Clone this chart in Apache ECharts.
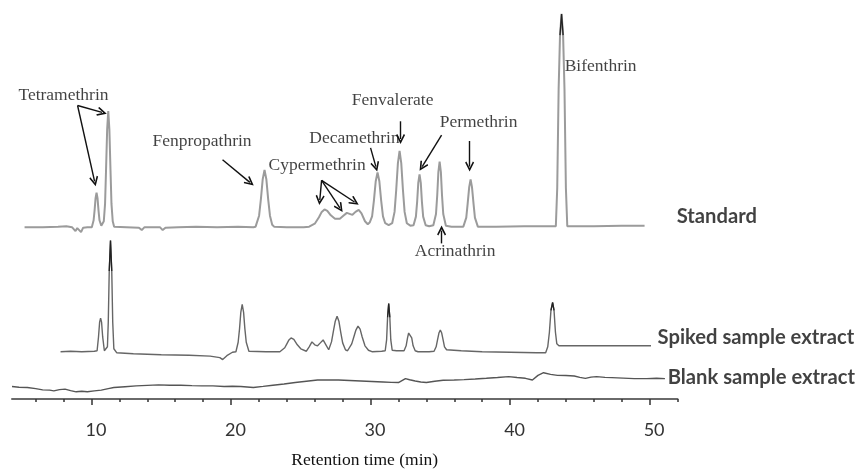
<!DOCTYPE html>
<html>
<head>
<meta charset="utf-8">
<script src="https://cdn.jsdelivr.net/npm/echarts@6/dist/echarts.min.js"></script>
<style>html,body{margin:0;padding:0;background:#fff;}#c{width:859px;height:474px;}</style>
</head>
<body>
<div id="c"></div>
<script>
// ---- Data (retention time in min, detector signal in arbitrary units above each trace's baseline) ----
const standardTrace = [
[5.2,0],[6.5,0],[7.6,0.5],[8.2,1],[8.6,0],[8.85,-4],[8.98,-1],[9.1,-1.5],[9.25,-5],[9.4,-0.5],[9.7,0],
[10.02,0],[10.15,7],[10.22,17],[10.29,29.4],[10.36,35],[10.43,29.4],[10.5,17],[10.57,7],[10.7,1.5],[10.79,1],
[10.88,6],[10.97,23.6],[11.04,57.8],[11.12,99],[11.2,118],[11.28,99],[11.36,57.8],[11.43,23.6],[11.52,6],[11.62,0.5],
[12.5,0],[13.4,-0.5],[13.6,-3],[13.8,0],[14.9,0],[15.1,-3],[15.3,-0.5],[16.2,0],[17.5,0.5],[19,0],[20.5,0.3],[21.6,0],
[21.76,0.5],[22.01,11.6],[22.14,28.4],[22.27,48.7],[22.4,58],[22.53,48.7],[22.66,28.4],[22.79,11.6],[22.95,2.5],[23.1,0.3],
[24,0],[25.2,0],[25.6,0.5],[26.0,3.5],[26.3,10],[26.5,15.5],[26.7,18],[26.9,16.5],[27.15,12],[27.45,8.5],[27.8,8.5],
[28.05,11.5],[28.3,14.5],[28.5,13.5],[28.7,12.5],[28.92,15.5],[29.15,17.5],[29.35,14],[29.6,6],[29.8,3],
[29.95,5],[30.11,11],[30.24,27],[30.37,46.6],[30.5,55.5],[30.63,46.6],[30.76,27],[30.89,11],[31.05,4],[31.3,2],
[31.55,4],[31.72,15.5],[31.84,38],[31.96,65],[32.08,77.5],[32.2,65],[32.32,38],[32.44,15.5],[32.6,4],[32.85,1.5],
[33.08,2],[33.25,10.7],[33.34,26],[33.42,45],[33.51,53.5],[33.6,45],[33.68,26],[33.77,10.7],[33.95,2],[34.2,1],
[34.5,2],[34.69,13.3],[34.78,32.6],[34.86,56],[34.95,66.5],[35.04,56],[35.12,32.6],[35.21,13.3],[35.4,1.5],[35.8,0.5],
[36.65,0.5],[36.86,9.7],[36.96,23.8],[37.07,40.7],[37.17,48.5],[37.27,40.7],[37.38,23.8],[37.48,9.7],[37.69,0.5],
[39,0.5],[41,1],[43.1,1],[43.28,1],[43.38,40],[43.48,140],[43.58,195],[43.69,216.5],[43.8,195],[43.9,140],[44.0,40],[44.1,1],
[46,1],[48,1.5],[49.64,1.5]
];
const spikedTrace = [
[7.78,0],[8.5,0.5],[9.3,0],[10.2,0.5],[10.4,1],[10.5,15],[10.58,30],[10.65,34],[10.72,30],[10.8,15],[10.92,1],[11.05,1],
[11.14,5],[11.2,30],[11.27,82],[11.36,113],[11.45,82],[11.52,30],[11.6,3],[11.8,-1],
[13,-2],[15,-3],[17,-3.5],[18.5,-4.5],[19.2,-6],[19.4,-8],[19.7,-4],[20.1,-0.5],
[20.35,0],[20.51,9.6],[20.61,23.5],[20.7,40],[20.8,48],[20.9,40],[20.99,23.5],[21.09,9.6],[21.28,0.5],
[22.5,0],[23.5,0],[23.85,4],[24.0,8],[24.15,12],[24.3,14],[24.5,12.5],[24.75,7],[25.0,3],[25.4,0.5],[25.6,5],[25.8,10],
[26.0,7],[26.2,6],[26.4,9],[26.6,12],[26.8,7],[27.0,2],
[27.2,10],[27.35,22],[27.47,31],[27.6,36],[27.73,31],[27.86,20],[28.0,9],[28.2,2],[28.35,1],
[28.65,8],[28.8,15],[28.95,22],[29.1,26],[29.25,23],[29.4,15],[29.6,6],[29.85,1.5],[30.1,0],
[30.8,0.5],[31.05,1],[31.15,12],[31.22,35],[31.3,49],[31.38,35],[31.45,12],[31.55,1.5],[31.86,1],
[32.4,1],[32.55,6],[32.65,14],[32.73,19],[32.8,21],[32.87,19],[32.95,14],[33.05,6],[33.2,1],[33.4,0],
[34.2,0],[34.55,0.5],[34.7,5],[34.8,12],[34.9,19],[35.0,22],[35.1,19],[35.2,12],[35.3,5],[35.45,2],
[36.5,1],[38,0],[40,-0.5],[41.9,-1],[42.55,-1],[42.7,5],[42.82,20],[42.93,42],[43.05,50],[43.15,42],[43.25,20],[43.35,8],[43.5,6],
[45,6],[47,6],[49,6],[50.1,6]
];
const blankTrace = [
[4.3,12.7],[4.8,12],[5.4,11.7],[6.0,10.5],[6.5,9.3],[7.0,9],[7.3,8.3],[7.7,9.5],[8.1,10],[8.5,8.5],[8.9,7.3],[9.3,7.8],[9.7,7.3],
[10.2,8.2],[10.7,9],[11.2,10.5],[11.6,11.7],[12.4,12.5],[13.2,13.3],[14.0,13.8],[14.8,14.3],[15.6,14],[16.4,14],[17.2,13.6],
[17.9,13.3],[18.7,13.3],[19.5,12.7],[20.1,13],[20.7,12.7],[21.6,11.7],[22.3,12.8],[23.0,14],[23.8,15.2],[24.6,16.7],
[25.4,18],[26.2,19.3],[27.0,19.3],[27.7,19.3],[28.5,18.8],[29.3,18.3],[30.1,17.8],[30.9,17.3],[31.5,16.9],[32.0,16.7],
[32.5,20.7],[32.8,19.5],[33.2,18.3],[33.6,17.3],[34.0,16.7],[34.6,18],[35.2,19],[36.0,19.3],[36.7,19.7],[37.5,20.3],
[38.3,21],[39.1,21.8],[39.9,22.7],[40.5,21.8],[41.1,21],[41.6,19.3],[42.0,24],[42.4,26.7],[42.9,25],[43.4,24],[44.0,23.8],
[44.6,23.3],[45.0,22],[45.4,21],[45.8,22.2],[46.2,22.7],[46.8,22],[47.3,21.7],[48.1,21.2],[48.9,20.7],[49.8,20.7],[50.5,21],[51.1,20.7]
];
const majorTicks = [10, 20, 30, 40, 50];
const minorTicks = [6,8,10,12,14,16,18,20,22,24,26,28,30,32,34,36,38,40,42,44,46,48,50,52];
const peakNames = ['Tetramethrin','Fenpropathrin','Cypermethrin','Decamethrin','Fenvalerate','Permethrin','Acrinathrin','Bifenthrin'];
const traceNames = ['Standard','Spiked sample extract','Blank sample extract'];

// ---- Layout constants (vertical offsets of the stacked traces, label/arrow anchors in axis units) ----
const offsets = [174.5, 48, 0];
const peakLabelPos = [[7.99,308],[17.92,262],[26.17,237],[28.85,265],[31.58,303],[37.74,281],[36.06,150],[46.49,338]];
const traceLabelPos = [[51.94,185],[50.57,62],[51.3,22]];
const arrows = [
  [[9.0,298],[10.22,221]],
  [[9.0,298],[10.75,291]],
  [[19.39,243],[21.35,220]],
  [[26.49,222],[26.36,202]],
  [[26.49,222],[27.8,194]],
  [[26.49,222],[28.85,200]],
  [[30.0,255],[30.38,236]],
  [[32.15,282],[32.15,264]],
  [[35.09,268],[33.7,236]],
  [[37.1,262],[37.1,236]],
  [[35.09,158],[35.09,171]]
];
// narrow peak tops where the recorder trace looks darker: [trace index, from, to]
const darkTips = [[0, 43.55, 43.85], [1, 11.25, 11.47], [1, 31.2, 31.4], [1, 42.9, 43.18]];

const traces = [standardTrace, spikedTrace, blankTrace];
const shift = (arr, off) => arr.map(p => [p[0], p[1] + off]);
const chevron = 'path://M5,0 L10,9 L8.6,10 L5,3.6 L1.4,10 L0,9 Z';

const tipSeries = darkTips.map(d => ({
  type: 'line', silent: true, showSymbol: false, symbol: 'none', z: 4,
  data: shift(traces[d[0]].filter(p => p[0] >= d[1] && p[0] <= d[2]), offsets[d[0]]),
  lineStyle: {color: '#222', width: 1.3}
}));

const chart = echarts.init(document.getElementById('c'), null, {renderer: 'canvas'});
chart.setOption({
  animation: false,
  backgroundColor: '#fff',
  grid: {left: 12, right: 181.5, top: 10, bottom: 69},
  xAxis: [{
    type: 'value', min: 4.3, max: 52,
    axisLine: {show: true, lineStyle: {color: '#6a6a6a', width: 2}},
    axisTick: {show: true, customValues: minorTicks, length: 3, lineStyle: {color: '#333', width: 1.5}},
    axisLabel: {show: true, customValues: majorTicks, margin: 22, color: '#333', fontFamily: 'Lato', fontSize: 18, padding: [0,0,0,9]},
    splitLine: {show: false},
    name: 'Retention time (min)', nameLocation: 'middle', nameGap: 52,
    nameTextStyle: {fontFamily: 'Liberation Serif', fontSize: 17.5, color: '#111', padding: [0,0,0,40]}
  }, {
    type: 'value', min: 4.3, max: 52, position: 'bottom',
    axisLine: {show: false},
    axisTick: {show: true, customValues: majorTicks, length: 6, lineStyle: {color: '#333', width: 1.5}},
    axisLabel: {show: false},
    splitLine: {show: false}
  }],
  yAxis: {type: 'value', min: 0, max: 395, show: false, splitLine: {show: false}},
  series: [
    {name: traceNames[0], type: 'line', data: shift(standardTrace, offsets[0]), showSymbol: false, symbol: 'none',
     lineStyle: {color: '#9b9b9b', width: 2}, z: 3},
    {name: traceNames[1], type: 'line', data: shift(spikedTrace, offsets[1]), showSymbol: false, symbol: 'none',
     lineStyle: {color: '#666', width: 1.4}, z: 3},
    {name: traceNames[2], type: 'line', data: shift(blankTrace, offsets[2]), showSymbol: false, symbol: 'none',
     lineStyle: {color: '#555', width: 1.4}, z: 3},
    ...tipSeries,
    {name: 'peaks', type: 'scatter', symbolSize: 0, silent: true, z: 5,
     data: peakNames.map((n, i) => ({name: n, value: peakLabelPos[i]})),
     label: {show: true, position: 'inside', formatter: '{b}', fontFamily: 'Liberation Serif', fontSize: 17.5, color: '#111'},
     markLine: {silent: true, symbol: ['none', chevron], symbolSize: [9, 10],
       lineStyle: {color: '#111', width: 1.4, type: 'solid'}, label: {show: false},
       data: arrows.map(a => [{coord: a[0]}, {coord: a[1]}])}
    },
    {name: 'traces', type: 'scatter', symbolSize: 0, silent: true, z: 5,
     data: traceNames.map((n, i) => ({name: n, value: traceLabelPos[i]})),
     label: {show: true, position: 'right', distance: 0, formatter: '{b}', fontFamily: 'Lato', fontWeight: 'bold', fontSize: 20.2, color: '#111'}
    }
  ]
});
</script>
</body>
</html>
